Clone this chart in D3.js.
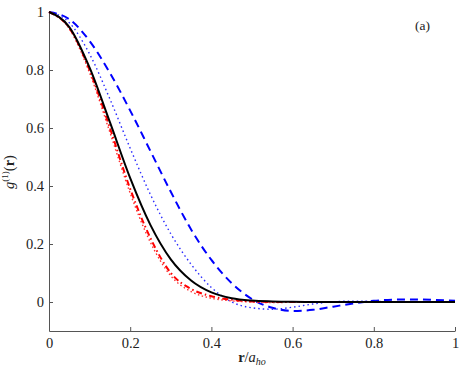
<!DOCTYPE html>
<html>
<head>
<meta charset="utf-8">
<script src="https://cdn.jsdelivr.net/npm/d3@7"></script>
<style>
  body { margin: 0; background: #fff; }
  text { font-family: "Liberation Serif", "Times New Roman", "DejaVu Serif", serif; fill: #222; }
</style>
</head>
<body>
<svg width="471" height="368"></svg>
<script>
// r / a_ho sample positions
const rVals = [0, 0.05, 0.1, 0.15, 0.2, 0.25, 0.3, 0.35, 0.4, 0.45, 0.5,
               0.55, 0.6, 0.65, 0.7, 0.75, 0.8, 0.85, 0.9, 0.95, 1];

// g1(r) curves
const blackSolid = [1, 0.948, 0.808, 0.62, 0.427, 0.265, 0.147, 0.074, 0.033, 0.013, 0.005,
                    0.002, 0.0005, 0, 0, 0, 0, 0, 0, 0, 0];
const redDashDot = [1, 0.945, 0.80, 0.60, 0.39, 0.22, 0.10, 0.045, 0.02, 0.008, 0.002,
                    0, 0, 0, 0, 0, 0, 0, 0, 0, 0];
const redDotted  = [1, 0.942, 0.79, 0.585, 0.375, 0.205, 0.09, 0.036, 0.013, 0.004, 0,
                    -0.002, -0.001, 0, 0, 0, 0, 0, 0, 0, 0];
const blueDotted = [1, 0.963, 0.855, 0.70, 0.53, 0.37, 0.235, 0.13, 0.05, 0.0, -0.02,
                    -0.025, -0.018, -0.007, 0.001, 0.003, 0.002, 0.001, 0, 0, 0];
const blueDashed = [1, 0.975, 0.90, 0.79, 0.66, 0.52, 0.38, 0.25, 0.145, 0.065, 0.01,
                    -0.02, -0.031, -0.027, -0.016, -0.005, 0.004, 0.008, 0.009, 0.007, 0.004];

const xTicks = [0, 0.2, 0.4, 0.6, 0.8, 1];
const yTicks = [0, 0.2, 0.4, 0.6, 0.8, 1];

const svg = d3.select('svg');

const x = d3.scaleLinear().domain([0, 1]).range([49, 455]);
const y = d3.scaleLinear().domain([-0.1, 1]).range([331, 12]);

const xAxis = svg.append('g')
    .attr('transform', 'translate(0,331)')
    .call(d3.axisBottom(x).tickValues(xTicks).tickFormat(d => String(d))
           .tickSizeInner(-4).tickSizeOuter(0).tickPadding(7));
const yAxis = svg.append('g')
    .attr('transform', 'translate(49,0)')
    .call(d3.axisLeft(y).tickValues(yTicks).tickFormat(d => String(d))
           .tickSizeInner(-4).tickSizeOuter(0).tickPadding(5));

[xAxis, yAxis].forEach(a => {
    a.attr('font-family', null);
    a.select('.domain').attr('stroke', '#555');
    a.selectAll('.tick line').attr('stroke', '#555');
    a.selectAll('.tick text')
     .attr('font-size', 14.5)
     .attr('fill', '#222');
});

const line = d3.line()
    .x((d, i) => x(rVals[i]))
    .y(d => y(d))
    .curve(d3.curveMonotoneX);

const series = [
    {vals: blueDashed, color: '#0000ff', width: 2,   dash: '8,5'},
    {vals: blueDotted, color: '#2a2aff', width: 1.4, dash: '1.5,3'},
    {vals: redDotted,  color: '#ff3030', width: 1.4, dash: '1.5,2.5'},
    {vals: redDashDot, color: '#ff0000', width: 2,   dash: '6,3,1.5,3'},
    {vals: blackSolid, color: '#000000', width: 2,   dash: null}
];

svg.append('g').selectAll('path')
   .data(series)
   .join('path')
   .attr('d', d => line(d.vals))
   .attr('fill', 'none')
   .attr('stroke', d => d.color)
   .attr('stroke-width', d => d.width)
   .attr('stroke-dasharray', d => d.dash);

// axis labels
const xl = svg.append('text')
    .attr('x', 252).attr('y', 362)
    .attr('text-anchor', 'middle')
    .attr('font-size', 14.5);
xl.append('tspan').attr('font-weight', 'bold').text('r');
xl.append('tspan').text('/');
xl.append('tspan').attr('font-style', 'italic').text('a');
xl.append('tspan').attr('font-style', 'italic').attr('font-size', 10).attr('dy', 3).text('ho');

const yl = svg.append('text')
    .attr('transform', 'translate(14,172) rotate(-90)')
    .attr('text-anchor', 'middle')
    .attr('font-size', 14.5);
yl.append('tspan').attr('font-style', 'italic').text('g');
yl.append('tspan').attr('font-size', 9).attr('dy', -6).text('(1)');
yl.append('tspan').attr('dy', 6).text('(');
yl.append('tspan').attr('font-weight', 'bold').text('r');
yl.append('tspan').text(')');

svg.append('text')
   .attr('x', 415).attr('y', 30)
   .attr('font-size', 13.5)
   .text('(a)');
</script>
</body>
</html>
